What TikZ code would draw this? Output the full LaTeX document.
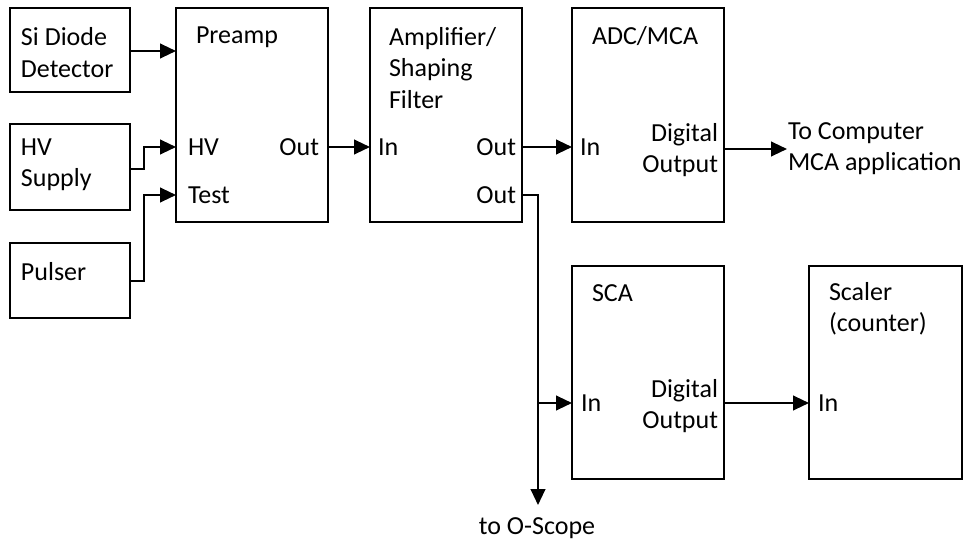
\documentclass[tikz,border=0pt]{standalone}
\usepackage{fontspec}
\setmainfont{Carlito}
\usetikzlibrary{arrows.meta}
\begin{document}
\begin{tikzpicture}[x=0.75pt,y=-0.75pt,
  every node/.style={font=\fontsize{19.5}{23.5}\selectfont},
  box/.style={draw, line width=1.5pt, inner sep=0pt, outer sep=0pt},
  lbl/.style={inner sep=0pt, outer sep=0pt},
  wire/.style={line width=1.6pt, -{Triangle[length=12pt,width=11pt]}},
  plain/.style={line width=1.6pt}]
\useasboundingbox (0,0) rectangle (968,542);
% boxes
\node[box, minimum width=90pt, minimum height=63pt] (si) at (70,50) {};
\node[box, minimum width=90pt, minimum height=64.5pt] (hv) at (70,167) {};
\node[box, minimum width=90pt, minimum height=56.25pt] (pu) at (70,280.5) {};
\node[box, minimum width=114pt, minimum height=160.5pt] (pre) at (252,115) {};
\node[box, minimum width=114pt, minimum height=160.5pt] (amp) at (446,115) {};
\node[box, minimum width=114pt, minimum height=160.5pt] (adc) at (648,115) {};
\node[box, minimum width=114pt, minimum height=159.75pt] (sca) at (648,372.5) {};
\node[box, minimum width=114.75pt, minimum height=159.75pt] (scl) at (885.5,372.5) {};
% labels
\node[lbl, anchor=west, align=left] (sil) at (21,52.5) {Si Diode\\Detector};
\node[lbl, anchor=west, align=left] (hvl) at (21,165) {HV\\Supply};
\node[lbl, anchor=west] (pul) at (21,272) {Pulser};
\node[lbl, anchor=west] (prel) at (196,37) {Preamp};
\node[lbl, anchor=west] (prehv) at (188,147) {HV};
\node[lbl, anchor=west] (pretest) at (188,195) {Test};
\node[lbl, anchor=east] (preout) at (319,147) {Out};
\node[lbl, anchor=west, align=left] (ampl) at (389,68) {Amplifier/\\Shaping\\Filter};
\node[lbl, anchor=west] (ampin) at (378,147) {In};
\node[lbl, anchor=east] (ampo1) at (516,147) {Out};
\node[lbl, anchor=east] (ampo2) at (516,195) {Out};
\node[lbl, anchor=west] (adcl) at (592,36) {ADC/MCA};
\node[lbl, anchor=west] (adcin) at (580,147) {In};
\node[lbl, anchor=east, align=right] (adcdo) at (718,150) {Digital\\Output};
\node[lbl, anchor=west, align=left] (compl) at (788,148.5) {To Computer\\MCA application};
\node[lbl, anchor=west] (scal) at (592,293) {SCA};
\node[lbl, anchor=west] (scain) at (581,403) {In};
\node[lbl, anchor=east, align=right] (scado) at (718,406) {Digital\\Output};
\node[lbl, anchor=west, align=left] (scll) at (829,309) {Scaler\\(counter)};
\node[lbl, anchor=west] (sclin) at (818,403) {In};
\node[lbl] (scopel) at (537,528) {to O-Scope};
% coordinates
\coordinate (hvy) at (0,147);
\coordinate (testy) at (0,195);
\coordinate (comp) at (787,149);
\coordinate (j) at (538,403);
\coordinate (scope) at (538,505);
\coordinate (hvout) at (130,169);
% connectors
\draw[wire] (si.east |- 0,51) -- (pre.west |- 0,51);
\draw[wire] (hvout) -- ++(14,0) |- (pre.west |- hvy);
\draw[wire] (pu.east |- 0,281) -- ++(14,0) |- (pre.west |- testy);
\draw[wire] (pre.east |- hvy) -- (amp.west |- hvy);
\draw[wire] (amp.east |- hvy) -- (adc.west |- hvy);
\draw[wire] (adc.east |- comp) -- (comp);
\draw[wire] (amp.east |- testy) -| (scope);
\draw[wire] (j) -- (sca.west |- j);
\draw[wire] (sca.east |- j) -- (scl.west |- j);
\end{tikzpicture}
\end{document}
